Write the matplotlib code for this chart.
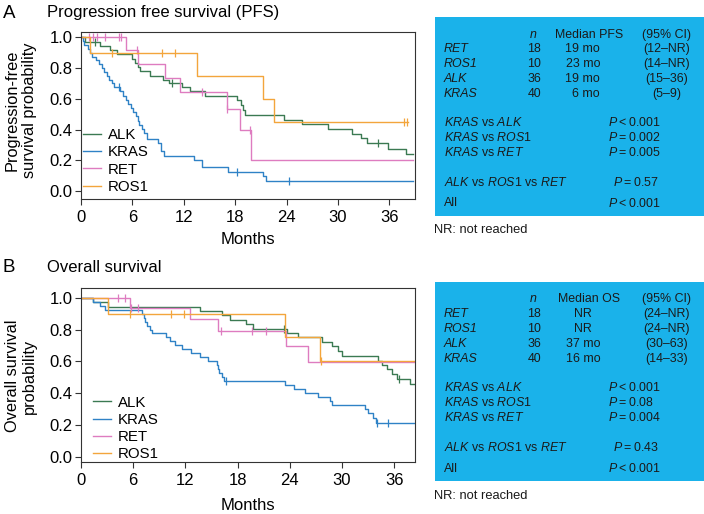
import numpy as np
import matplotlib
matplotlib.use("Agg")
from matplotlib import pyplot as plt
from matplotlib.lines import Line2D
from matplotlib.patches import Rectangle

plt.rcParams['font.family'] = ['Liberation Sans', 'DejaVu Sans']
plt.rcParams['mathtext.fontset'] = 'custom'
plt.rcParams['mathtext.rm'] = 'Liberation Sans'
plt.rcParams['mathtext.it'] = 'Liberation Sans:italic'

groups = ['ALK', 'KRAS', 'RET', 'ROS1']
colors = {'ALK': '#3B7A52', 'KRAS': '#2F82C6', 'RET': '#DE7CC0', 'ROS1': '#F3A53C'}

# --- A: progression free survival (event times, survival after event, censor times)
pfs_alk_t = [0.5, 2.2, 3.4, 4.2, 5.9, 6.3, 6.6, 6.9, 8.1, 9.6, 10.3, 11.8, 12.7, 14.5, 18.2, 18.7,
             18.9, 19.1, 23.7, 25.8, 28.8, 31.6, 32.7, 33.4, 35.8, 38.0]
pfs_alk_s = [0.972, 0.944, 0.917, 0.889, 0.861, 0.833, 0.806, 0.778, 0.75, 0.722, 0.70, 0.675, 0.648,
             0.62, 0.59, 0.56, 0.53, 0.495, 0.463, 0.435, 0.405, 0.374, 0.343, 0.312, 0.275, 0.243]
pfs_alk_c = [1.6, 10.6, 34.7]

pfs_kras_t = [0.2, 0.4, 0.8, 1.0, 1.3, 1.7, 2.1, 2.4, 2.7, 3.0, 3.3, 3.6, 3.9, 4.6, 4.9, 5.2, 5.5,
              5.8, 6.1, 6.4, 6.6, 6.8, 7.1, 7.3, 7.7, 9.0, 9.3, 9.7, 13.2, 14.1, 17.2, 21.2, 21.6]
pfs_kras_s = [0.975, 0.95, 0.925, 0.90, 0.875, 0.85, 0.825, 0.80, 0.775, 0.75, 0.725, 0.70, 0.675,
              0.648, 0.62, 0.593, 0.566, 0.539, 0.512, 0.485, 0.458, 0.431, 0.404, 0.377, 0.34,
              0.31, 0.26, 0.23, 0.20, 0.155, 0.125, 0.095, 0.063]
pfs_kras_c = [4.4, 18.2, 24.3]

pfs_ret_t = [5.25, 6.6, 9.8, 11.6, 17.0, 18.6, 19.9]
pfs_ret_s = [0.917, 0.825, 0.733, 0.642, 0.535, 0.40, 0.20]
pfs_ret_c = [0.9, 1.4, 1.9, 2.8, 4.4, 4.7, 6.5, 14.1, 17.1, 19.7]

pfs_ros1_t = [1.05, 13.6, 21.3, 22.5]
pfs_ros1_s = [0.9, 0.75, 0.6, 0.45]
pfs_ros1_c = [3.6, 9.4, 11.0, 37.7, 38.1]

pfs_end = {'ALK': 38.8, 'KRAS': 38.8, 'RET': 38.8, 'ROS1': 38.2}

# --- B: overall survival
os_alk_t = [1.4, 3.1, 13.7, 16.2, 17.1, 19.0, 19.8, 23.7, 24.9, 27.7, 28.9, 29.5, 30.0, 34.1,
            34.6, 35.2, 35.7, 36.3, 37.8]
os_alk_s = [0.972, 0.944, 0.917, 0.889, 0.861, 0.833, 0.806, 0.778, 0.75, 0.722, 0.694, 0.667,
            0.636, 0.605, 0.578, 0.55, 0.52, 0.49, 0.46]
os_alk_c = [23.3, 36.6]

os_kras_t = [1.4, 2.2, 2.8, 7.0, 7.2, 7.4, 7.6, 7.9, 8.2, 9.8, 10.2, 10.8, 11.6, 12.7, 13.7, 14.6,
             15.6, 15.8, 15.9, 16.2, 16.4, 23.5, 24.5, 25.8, 27.3, 28.6, 28.8, 32.6, 33.0, 33.6, 33.9]
os_kras_s = [0.975, 0.95, 0.925, 0.90, 0.875, 0.85, 0.825, 0.80, 0.775, 0.75, 0.725, 0.70, 0.675,
             0.65, 0.625, 0.60, 0.575, 0.55, 0.525, 0.50, 0.475, 0.45, 0.425, 0.40, 0.375, 0.35,
             0.325, 0.30, 0.275, 0.245, 0.215]
os_kras_c = [16.7, 34.0, 35.3]

os_ret_t = [5.6, 12.5, 15.7, 23.6, 26.1]
os_ret_s = [0.9375, 0.865, 0.793, 0.694, 0.595]
os_ret_c = [4.3, 5.1, 5.75, 6.5, 16.1, 19.7, 21.3]

os_ros1_t = [3.1, 23.4, 27.5]
os_ros1_s = [0.9, 0.75, 0.60]
os_ros1_c = [5.6, 10.3, 11.8, 27.6]

os_end = {'ALK': 38.4, 'KRAS': 38.4, 'RET': 38.4, 'ROS1': 38.4}

# --- tables
tab_rows = ['RET', 'ROS1', 'ALK', 'KRAS']
tab_n = ['18', '10', '36', '40']
pfs_median = ['19 mo', '23 mo', '19 mo', '6 mo']
pfs_ci = ['(12\u2013NR)', '(14\u2013NR)', '(15\u201336)', '(5\u20139)']
os_median = ['NR', 'NR', '37 mo', '16 mo']
os_ci = ['(24\u2013NR)', '(24\u2013NR)', '(30\u201363)', '(14\u201333)']
pfs_p = ['<0.001', '=0.002', '=0.005', '=0.57', '<0.001']
os_p = ['<0.001', '=0.08', '=0.004', '=0.43', '<0.001']

W, H = 704, 514
fig = plt.figure(figsize=(W / 100, H / 100), dpi=100)


def fx(x):
    return x / W


def fy(y):
    return 1 - y / H


def km(ax, t, s, c, end, color):
    x = np.concatenate([[0.0], t, [end]])
    y = np.concatenate([[1.0], s, [s[-1]]])
    ax.step(x, y, where='post', color=color, lw=1.0)
    cy = [y[np.searchsorted(x, v, side='right') - 1] for v in c]
    ax.plot(c, cy, ls='none', marker='|', ms=6, mew=0.9, color=color)


def style_ax(ax, xmax, ylim):
    ax.set_xlim(0, xmax)
    ax.set_ylim(*ylim)
    ax.set_xticks(range(0, 37, 6))
    ax.set_yticks([0, 0.2, 0.4, 0.6, 0.8, 1.0])
    ax.set_yticklabels(['0.0', '0.2', '0.4', '0.6', '0.8', '1.0'])
    ax.tick_params(direction='out', length=4, width=0.8, labelsize=12, pad=2, color='#333333')
    ax.tick_params(axis='x', pad=4)
    for sp in ax.spines.values():
        sp.set_color('#333333')
        sp.set_linewidth(0.8)


axA = fig.add_axes([fx(81), fy(199), fx(334), 166.7 / H])
axB = fig.add_axes([fx(81), fy(462.3), fx(334), 174.6 / H])

pfs = {'ALK': (pfs_alk_t, pfs_alk_s, pfs_alk_c), 'KRAS': (pfs_kras_t, pfs_kras_s, pfs_kras_c),
       'RET': (pfs_ret_t, pfs_ret_s, pfs_ret_c), 'ROS1': (pfs_ros1_t, pfs_ros1_s, pfs_ros1_c)}
osd = {'ALK': (os_alk_t, os_alk_s, os_alk_c), 'KRAS': (os_kras_t, os_kras_s, os_kras_c),
       'RET': (os_ret_t, os_ret_s, os_ret_c), 'ROS1': (os_ros1_t, os_ros1_s, os_ros1_c)}

for g in groups:
    km(axA, *pfs[g], pfs_end[g], colors[g])
    km(axB, *osd[g], os_end[g], colors[g])

style_ax(axA, 39.0, (-0.052, 1.033))
style_ax(axB, 38.4, (-0.035, 1.063))

handles = [Line2D([], [], color=colors[g], lw=1.0) for g in groups]
axA.legend(handles, groups, loc='lower left', bbox_to_anchor=(0.005, 0.03), frameon=False,
           fontsize=10.8, handlelength=1.2, handletextpad=0.5, labelspacing=0.22,
           borderpad=0, borderaxespad=0)
axB.legend(handles, groups, loc='lower left', bbox_to_anchor=(0.035, 0.005), frameon=False,
           fontsize=10.8, handlelength=1.2, handletextpad=0.5, labelspacing=0.22,
           borderpad=0, borderaxespad=0)

# panel letters, titles and axis labels
fig.text(fx(3), fy(13), 'A', fontsize=13.5, va='center')
fig.text(fx(47), fy(13), 'Progression free survival (PFS)', fontsize=12, va='center')
fig.text(fx(3), fy(268), 'B', fontsize=13.5, va='center')
fig.text(fx(47), fy(268), 'Overall survival', fontsize=12, va='center')
fig.text(fx(248), fy(240), 'Months', fontsize=12, ha='center', va='center')
fig.text(fx(248), fy(505), 'Months', fontsize=12, ha='center', va='center')
fig.text(fx(21), fy(110), 'Progression-free\nsurvival probability', fontsize=11.8, rotation=90,
         ha='center', va='center', linespacing=1.2)
fig.text(fx(21), fy(376), 'Overall survival\nprobability', fontsize=11.8, rotation=90,
         ha='center', va='center', linespacing=1.2)


def table(top, bottom, rows_y, cmp_y, med_label, medians, cis, pvals, med_ha, med_x):
    fig.add_artist(Rectangle((fx(435), fy(bottom)), fx(704 - 435), (bottom - top) / H,
                             transform=fig.transFigure, facecolor='#1AB2EA', edgecolor='none',
                             zorder=0))
    fs = 8.9
    kw = dict(fontsize=fs, va='center', color='#1a1a1a')
    fig.text(fx(533), fy(rows_y[0]), 'n', ha='center', style='italic', **kw)
    fig.text(fx(589), fy(rows_y[0]), med_label, ha='center', **kw)
    fig.text(fx(667), fy(rows_y[0]), '(95% CI)', ha='center', **kw)
    for i, g in enumerate(tab_rows):
        y = fy(rows_y[i + 1])
        fig.text(fx(444), y, g, ha='left', style='italic', **kw)
        fig.text(fx(541), y, tab_n[i], ha='right', **kw)
        fig.text(fx(med_x), y, medians[i], ha=med_ha, **kw)
        fig.text(fx(667), y, cis[i], ha='center', **kw)
    cmp_labels = [r'$\mathit{KRAS}$ vs $\mathit{ALK}$',
                  r'$\mathit{KRAS}$ vs $\mathit{ROS1}$',
                  r'$\mathit{KRAS}$ vs $\mathit{RET}$',
                  r'$\mathit{ALK}$ vs $\mathit{ROS1}$ vs $\mathit{RET}$',
                  'All']
    for i, lab in enumerate(cmp_labels):
        y = fy(cmp_y[i])
        fig.text(fx(444), y, lab, ha='left', **kw)
        px = 612.7 if i == 3 else 608.3
        fig.text(fx(px), y, r'$\mathit{P}$' + '\u2009' + pvals[i][0] + '\u2009' + pvals[i][1:],
                 ha='left', **kw)


table(16.7, 216, [35, 49.3, 64, 79, 94], [122.3, 137.3, 152.3, 182.3, 203.3],
      'Median PFS', pfs_median, pfs_ci, pfs_p, 'right', 600)
fig.text(fx(434), fy(230), 'NR: not reached', fontsize=9.3, va='center', color='#1a1a1a')
table(282.3, 481, [299.3, 314, 329.3, 344.3, 359], [387.3, 402.7, 417.3, 447.3, 469],
      'Median OS', os_median, os_ci, os_p, 'center', 583)
fig.text(fx(434), fy(495.7), 'NR: not reached', fontsize=9.3, va='center', color='#1a1a1a')

fig.savefig('out.png', dpi=100)
